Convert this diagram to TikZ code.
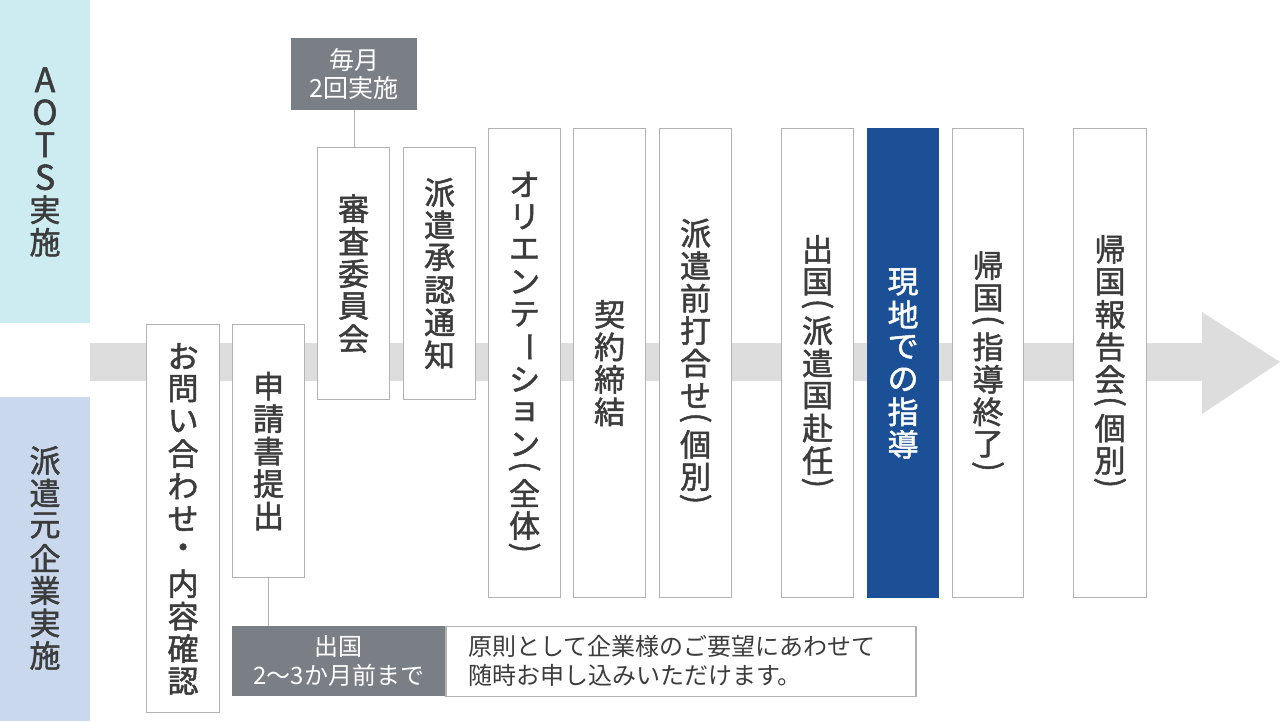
\documentclass[tikz,border=0pt]{standalone}
\usepackage{graphicx}
\usepackage{fontspec}
\setmainfont{Noto Sans CJK JP}
\newfontfamily\jpfont{Noto Sans CJK JP}[FakeBold=1.6]
\usetikzlibrary{positioning}

\definecolor{aotsband}{RGB}{204,236,242}
\definecolor{firmband}{RGB}{201,216,236}
\definecolor{flowgray}{RGB}{221,221,221}
\definecolor{boxgray}{RGB}{178,178,178}
\definecolor{textgray}{RGB}{60,60,60}
\definecolor{tagdark}{RGB}{122,127,134}
\definecolor{guideblue}{RGB}{27,79,150}

\newcommand{\tatefont}{\jpfont\fontsize{31pt}{32pt}\selectfont}
\newcommand{\tatecap}{\fontsize{34pt}{34pt}\selectfont}
\newcommand{\tagfont}{\fontsize{25pt}{28pt}\selectfont}
\newcommand{\notefont}{\fontsize{24pt}{29pt}\selectfont}

% vertical text, one character per cell
\newlength{\tatepitch}
\setlength{\tatepitch}{32.5pt}
\makeatletter
\def\tate@op{(}
\def\tate@cp{)}
\def\tate@bar{ー}
\newcommand{\tate@cell}[2]{\hbox to 1.1em{\hss\vbox to #1{\vss\hbox{#2}\vss}\hss}}
\newcommand{\tate}[1]{\vbox{\offinterlineskip
  \@tfor\tate@c:=#1\do{%
    \ifx\tate@c\tate@op \tate@cell{0.5\tatepitch}{\rotatebox[origin=c]{-90}{(}}%
    \else\ifx\tate@c\tate@cp \tate@cell{0.5\tatepitch}{\rotatebox[origin=c]{-90}{)}}%
    \else\ifx\tate@c\tate@bar \tate@cell{\tatepitch}{\rotatebox[origin=c]{-90}{ー}}%
    \else \tate@cell{\tatepitch}{\tate@c}\fi\fi\fi}}}
\makeatother

\begin{document}
\begin{tikzpicture}[
  x=1pt,y=-1pt,
  stepbox/.style={draw=boxgray,line width=1.2pt,fill=white,inner sep=0pt,text=textgray,
                  font=\tatefont,anchor=north west},
  tall/.style={minimum width=72pt,minimum height=469pt},
  half/.style={minimum width=72pt,minimum height=252pt},
  tag/.style={fill=tagdark,text=white,inner sep=0pt,align=center,anchor=north west},
  link/.style={draw=boxgray,line width=1.2pt}
  ]
  \useasboundingbox (0,0) rectangle (1280,721);
  \fill[aotsband] (0,0) rectangle (90,323);
  \fill[firmband] (0,397) rectangle (90,721);
  \fill[flowgray] (90,343) -- (1202,343) -- (1202,312) -- (1280,362)
    -- (1202,414) -- (1202,381) -- (90,381) -- cycle;

  \node[text=textgray,font=\tatefont] (aots) at (45,161) {\tate{{\tatecap A}{\tatecap O}{\tatecap T}{\tatecap S}実施}};
  \node[text=textgray,font=\tatefont] (firm) at (45,558) {\tate{派遣元企業実施}};

  \node[stepbox,minimum width=73pt,minimum height=388pt] (ask) at (146,324) {\tate{お問い合わせ・内容確認}};
  \node[stepbox,minimum width=72pt,minimum height=253pt] (apply) at (232,324) {\tate{申請書提出}};
  \node[stepbox,half] (review) at (317,147) {\tate{審査委員会}};
  \node[stepbox,half] (notice) at (403,147) {\tate{派遣承認通知}};
  \node[stepbox,tall] (orient) at (488,128) {\tate{オリエンテーション(全体)}};
  \node[stepbox,tall] (contract) at (573,128) {\tate{契約締結}};
  \node[stepbox,tall] (meeting) at (659,128) {\tate{派遣前打合せ(個別)}};
  \node[stepbox,tall] (depart) at (781,128) {\tate{出国(派遣国赴任)}};
  \node[stepbox,tall,minimum width=71pt,fill=guideblue,draw=guideblue,text=white] (guide) at (867,128) {\tate{現地での指導}};
  \node[stepbox,tall,minimum width=71pt] (return) at (952,128) {\tate{帰国(指導終了)}};
  \node[stepbox,tall,minimum width=73pt] (report) at (1073,128) {\tate{帰国報告会(個別)}};

  \node[tag,minimum width=126pt,minimum height=72pt,font=\tagfont] (monthly) at (291,38) {毎月\\2回実施};
  \node[tag,minimum width=213pt,minimum height=70pt,font=\notefont] (deadline) at (232,626) {出国\\2〜3か月前まで};
  \node[draw=boxgray,line width=1.2pt,fill=white,text=textgray,right=0pt of deadline,
        minimum height=70pt,text width=426pt,inner xsep=22pt,align=left,font=\notefont] (note)
        {原則として企業様のご要望にあわせて\\随時お申し込みいただけます。};

  \draw[link] (monthly.south) -- (monthly.south |- review.north);
  \draw[link] (apply.south) -- (apply.south |- deadline.north);
\end{tikzpicture}
\end{document}
